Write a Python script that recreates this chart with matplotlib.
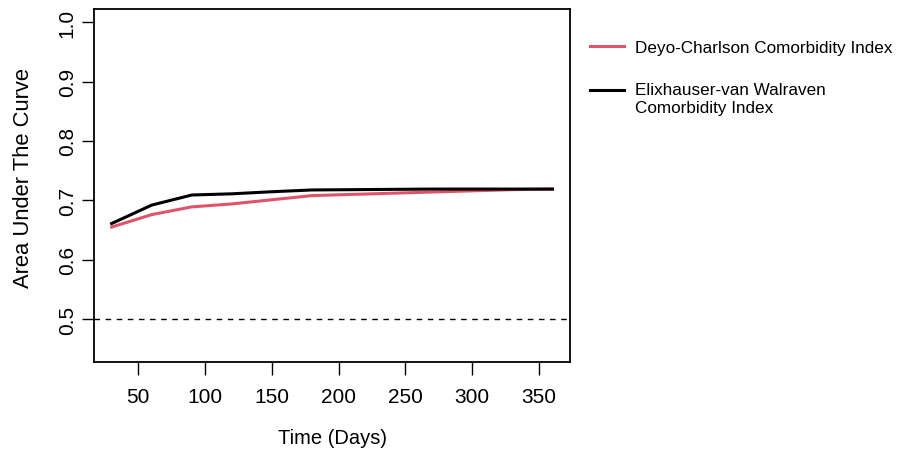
import numpy as np
import matplotlib.pyplot as plt

plt.rcParams['font.family'] = ['Liberation Sans', 'DejaVu Sans']

days = [30, 60, 90, 120, 150, 180, 210, 240, 270, 300, 330, 360]
auc_charlson = [0.655, 0.676, 0.689, 0.694, 0.701, 0.708, 0.710, 0.712, 0.714, 0.716, 0.718, 0.719]
auc_elixhauser = [0.661, 0.692, 0.709, 0.711, 0.7145, 0.7175, 0.718, 0.7185, 0.719, 0.719, 0.719, 0.719]
xticks = [50, 100, 150, 200, 250, 300, 350]
yticks = [0.5, 0.6, 0.7, 0.8, 0.9, 1.0]

fig = plt.figure(figsize=(9.07, 4.52), dpi=100)
ax = fig.add_axes([94 / 907, 1 - 363 / 452, 476 / 907, 353 / 452])

ax.plot(days, auc_charlson, color='#DF536B', lw=2.2, label='Deyo-Charlson Comorbidity Index')
ax.plot(days, auc_elixhauser, color='black', lw=2.2, label='Elixhauser-van Walraven\nComorbidity Index')
ax.axhline(0.5, color='black', lw=1, ls=(0, (4, 4)))

ax.set_xlim(16.8, 373.2)
ax.set_ylim(0.428, 1.022)
ax.set_xticks(xticks)
ax.set_yticks(yticks)
ax.set_yticklabels([f'{v:.1f}' for v in yticks], rotation=90, va='center')
ax.tick_params(direction='out', length=9, width=1, labelsize=15)
ax.tick_params(axis='x', pad=9)
for s in ax.spines.values():
    s.set_linewidth(1.3)

ax.set_xlabel('Time (Days)', fontsize=14.5, labelpad=16)
ax.set_ylabel('Area Under The Curve', fontsize=15.8)
ax.yaxis.set_label_coords(-0.127, 0.523)

leg = ax.legend(loc='upper left', bbox_to_anchor=(1.01, 0.955), frameon=False, fontsize=12.3,
                handlelength=2.0, handletextpad=0.6, labelspacing=1.55)
for t in leg.get_texts():
    t.set_linespacing(1.3)
# R puts the key beside the first line of a wrapped label
h = leg.get_lines()[1]
h.set_ydata(np.asarray(h.get_ydata()) + 6.5)

fig.savefig('out.png', dpi=100)
